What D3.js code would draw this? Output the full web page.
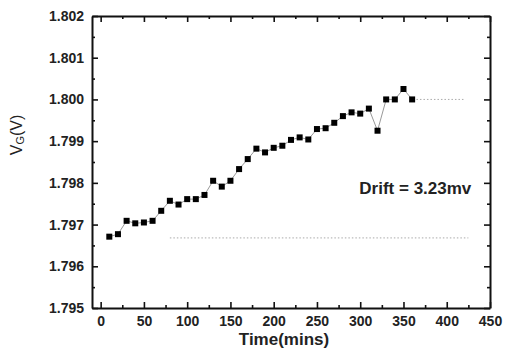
<!DOCTYPE html>
<html>
<head>
<meta charset="utf-8">
<script src="https://cdn.jsdelivr.net/npm/d3@7"></script>
<style>
  body { margin: 0; background: #fff; }
  svg { display: block; }
</style>
</head>
<body>
<div id="chart"></div>
<script>
// time in minutes
const times = [10, 20, 30, 40, 50, 60, 70, 80, 90, 100, 110, 120, 130, 140, 150, 160, 170, 180,
  190, 200, 210, 220, 230, 240, 250, 260, 270, 280, 290, 300, 310, 320, 330, 340, 350, 360];
// gate voltage, V
const vg = [1.79671, 1.79677, 1.79709, 1.79703, 1.79705, 1.79709, 1.79733, 1.79757, 1.79748,
  1.79761, 1.79761, 1.79771, 1.79805, 1.79791, 1.79805, 1.79833, 1.79857, 1.79882, 1.79873,
  1.79884, 1.79889, 1.79903, 1.79909, 1.79904, 1.79929, 1.79931, 1.79944, 1.79960, 1.79969,
  1.79966, 1.79978, 1.79925, 1.80000, 1.80000, 1.80025, 1.80000];
// dotted reference levels [x0, x1, y]
const refLines = [[365, 420, 1.80000], [80, 425, 1.79668]];
const xTicks = [0, 50, 100, 150, 200, 250, 300, 350, 400, 450];
const xMinor = [25, 75, 125, 175, 225, 275, 325, 375, 425];
const yTicks = [1.795, 1.796, 1.797, 1.798, 1.799, 1.800, 1.801, 1.802];
const yMinor = [1.7955, 1.7965, 1.7975, 1.7985, 1.7995, 1.8005, 1.8015];

const W = 505, H = 358;
const margin = { top: 16, right: 15, bottom: 50, left: 92 };
const width = W - margin.left - margin.right;
const height = H - margin.top - margin.bottom;

const svg = d3.select("#chart").append("svg")
  .attr("width", W).attr("height", H)
  .attr("font-family", "Liberation Sans, Arial, sans-serif");
const g = svg.append("g").attr("transform", `translate(${margin.left},${margin.top})`);

const x = d3.scaleLinear().domain([-10, 450]).range([0, width]);
const y = d3.scaleLinear().domain([1.795, 1.802]).range([height, 0]);

// helper: an axis with inward ticks (major + minor)
function drawAxis(axisFn, scale, transform, showLabels, fmt) {
  const major = axisFn(scale).tickValues(showLabels ? (scale === x ? xTicks : yTicks) : (scale === x ? xTicks : yTicks))
    .tickSizeInner(-6).tickSizeOuter(0).tickPadding(8)
    .tickFormat(showLabels ? fmt : "");
  const minor = axisFn(scale).tickValues(scale === x ? xMinor : yMinor)
    .tickSizeInner(-3).tickSizeOuter(0).tickFormat("");
  const a = g.append("g").attr("transform", transform).call(major);
  g.append("g").attr("transform", transform).call(minor).call(s => s.select(".domain").remove());
  a.select(".domain").attr("stroke", "#111").attr("stroke-width", 2);
  a.selectAll(".tick line").attr("stroke", "#111").attr("stroke-width", 1.6);
  a.selectAll("text").attr("font-size", 14).attr("font-weight", "bold").attr("fill", "#222");
  return a;
}

drawAxis(d3.axisBottom, x, `translate(0,${height})`, true, d3.format("d"));
drawAxis(d3.axisTop, x, `translate(0,0)`, false);
drawAxis(d3.axisLeft, y, `translate(0,0)`, true, d3.format(".3f"));
drawAxis(d3.axisRight, y, `translate(${width},0)`, false);
g.selectAll(".tick line").attr("stroke", "#111").attr("stroke-width", 1.6);

// dotted reference lines
g.selectAll(".ref").data(refLines).enter().append("line")
  .attr("x1", d => x(d[0])).attr("x2", d => x(d[1]))
  .attr("y1", d => y(d[2])).attr("y2", d => y(d[2]))
  .attr("stroke", "#aaa").attr("stroke-width", 1)
  .attr("stroke-dasharray", "1.5,2");

// data line + markers
const pts = times.map((t, i) => [t, vg[i]]);
g.append("path").datum(pts)
  .attr("fill", "none").attr("stroke", "#999").attr("stroke-width", 1)
  .attr("d", d3.line().x(d => x(d[0])).y(d => y(d[1])));
g.selectAll(".pt").data(pts).enter().append("rect")
  .attr("x", d => x(d[0]) - 3).attr("y", d => y(d[1]) - 3)
  .attr("width", 6).attr("height", 6).attr("fill", "#000");

// annotation
g.append("text").attr("x", x(299)).attr("y", y(1.79774))
  .attr("font-size", 17).attr("font-weight", "bold").attr("fill", "#222")
  .text("Drift = 3.23mv");

// axis titles
svg.append("text").attr("x", 284).attr("y", 345)
  .attr("text-anchor", "middle").attr("font-size", 17).attr("font-weight", "bold").attr("fill", "#222")
  .text("Time(mins)");
const yl = svg.append("text").attr("transform", "translate(22,135) rotate(-90)")
  .attr("text-anchor", "middle").attr("font-size", 16).attr("fill", "#222");
yl.append("tspan").text("V");
yl.append("tspan").attr("font-size", 11).attr("dy", 2).text("G");
yl.append("tspan").attr("dy", -2).text("(V)");
</script>
</body>
</html>
